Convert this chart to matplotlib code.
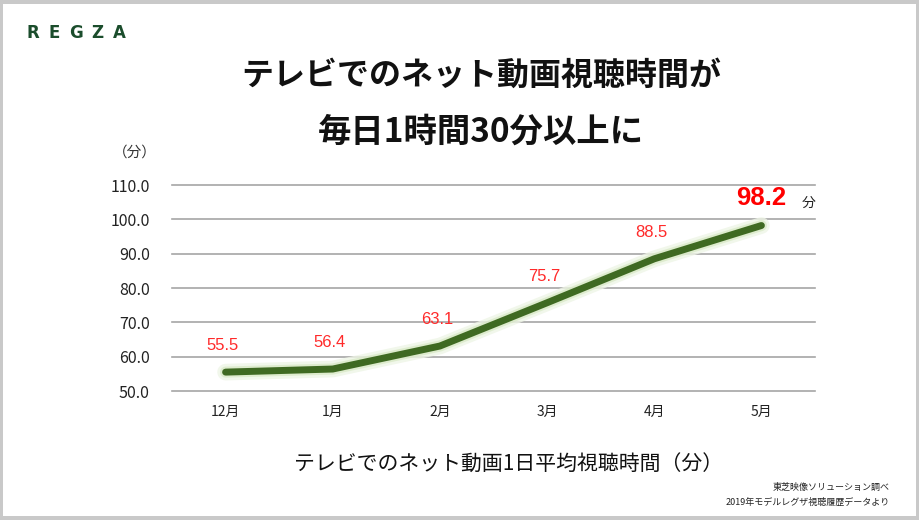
import matplotlib.pyplot as plt
import matplotlib.patheffects as pe
from matplotlib.patches import Rectangle

plt.rcParams['font.family'] = ['Noto Sans CJK JP', 'DejaVu Sans']

# Data
months = ["12月", "1月", "2月", "3月", "4月", "5月"]
minutes = [55.5, 56.4, 63.1, 75.7, 88.5, 98.2]
y_ticks = [50, 60, 70, 80, 90, 100, 110]

LINE_GREEN = "#3f6a22"
LABEL_RED = "#ff2a2a"

fig = plt.figure(figsize=(9.2, 5.2), dpi=100, facecolor="#c9c9c9")
# white page inside grey frame
fig.patches.append(Rectangle((3 / 920, 4 / 520), 913 / 920, 512 / 520,
                             transform=fig.transFigure, facecolor="white",
                             edgecolor="none", zorder=-10))

ax = fig.add_axes([172 / 920, 1 - 391 / 520, 643 / 920, 206 / 520])
ax.set_facecolor("none")
ax.set_zorder(2)

x = list(range(len(months)))
ax.plot(x, minutes, color=LINE_GREEN, lw=5, solid_capstyle="round",
        solid_joinstyle="round", zorder=3,
        path_effects=[pe.Stroke(linewidth=12, foreground="#eef5e6", alpha=0.8),
                      pe.Stroke(linewidth=8, foreground="#d6e8c2", alpha=0.7),
                      pe.Normal()])

ax.set_xlim(-0.5, len(months) - 0.5)
ax.set_ylim(50, 110)
ax.set_yticks(y_ticks)
ax.set_yticklabels([f"{v:.1f}" for v in y_ticks], fontsize=11.5, color="#222222")
ax.set_xticks(x)
ax.set_xticklabels(months, fontsize=10, color="#222222")
ax.tick_params(length=0)
ax.tick_params(axis="y", pad=16)
ax.tick_params(axis="x", pad=10)
for s in ax.spines.values():
    s.set_visible(False)
for v in y_ticks:
    ax.axhline(v, color="#a6a6a6", lw=1.2, zorder=1, clip_on=False)

# value labels
for i, v in enumerate(minutes[:-1]):
    ax.annotate(f"{v:.1f}", (i, v), xytext=(-2, 19), textcoords="offset points",
                ha="center", va="center", fontsize=12, color=LABEL_RED,
                family="Liberation Sans")
ax.annotate(f"{minutes[-1]:.1f}", (x[-1], minutes[-1]), xytext=(0, 20),
            textcoords="offset points", ha="center", va="center",
            fontsize=18.5, fontweight="bold", color="#ff0000", family="Liberation Sans")
ax.annotate("分", (x[-1], minutes[-1]), xytext=(34, 16), textcoords="offset points",
            ha="center", va="center", fontsize=10, color="#222222")

# titles and notes
fig.text(481 / 920, 1 - 76 / 520, "テレビでのネット動画視聴時間が", ha="center", va="center",
         fontsize=23, fontweight="bold", color="#111111")
fig.text(481 / 920, 1 - 132 / 520, "毎日1時間30分以上に", ha="center", va="center",
         fontsize=24, fontweight="bold", color="#111111")
fig.text(135 / 920, 1 - 153 / 520, "（分）", ha="center", va="center",
         fontsize=10.5, color="#333333")
fig.text(509 / 920, 1 - 464 / 520, "テレビでのネット動画1日平均視聴時間（分）", ha="center",
         va="center", fontsize=15, color="#111111")
fig.text(890 / 920, 1 - 487 / 520, "東芝映像ソリューション調べ", ha="right", va="center",
         fontsize=6.5, color="#222222")
fig.text(890 / 920, 1 - 502 / 520, "2019年モデルレグザ視聴履歴データより", ha="right",
         va="center", fontsize=6.5, color="#222222")

# logo
for k, ch in enumerate("REGZA"):
    fig.text((33 + k * 21.5) / 920, 1 - 33 / 520, ch, ha="center", va="center",
             fontsize=12, fontweight="bold", color="#1b4d2c", family="DejaVu Sans")

fig.savefig("out.png", dpi=100, facecolor=fig.get_facecolor())
